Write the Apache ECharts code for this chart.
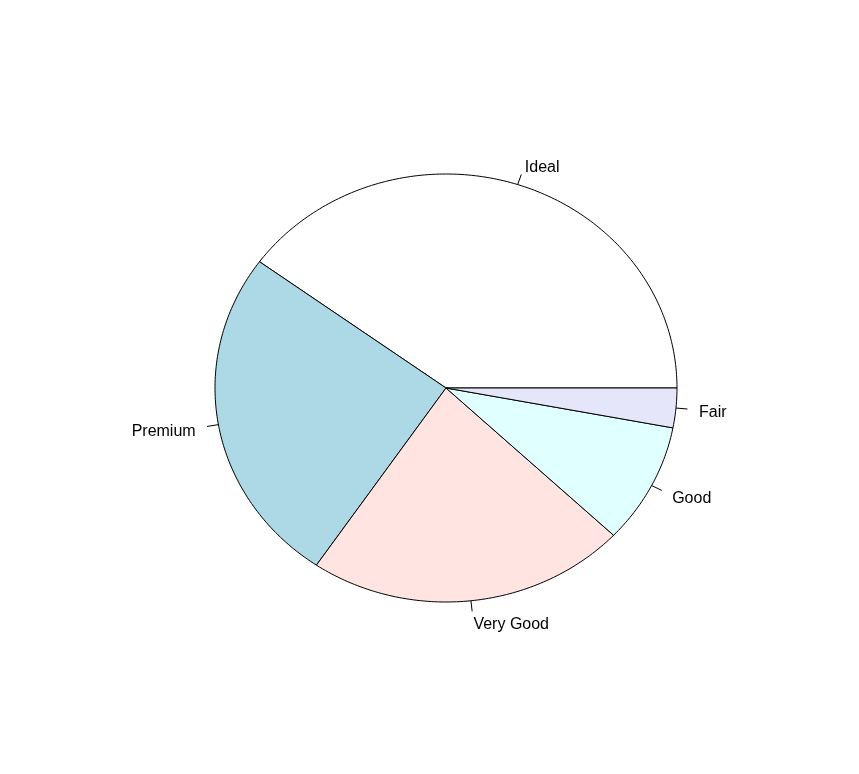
<!DOCTYPE html>
<html>
<head>
<meta charset="utf-8">
<script src="https://cdn.jsdelivr.net/npm/echarts@6/dist/echarts.min.js"></script>
<style>
html,body{margin:0;padding:0;background:#fff;}
#chart{width:859px;height:774px;}
</style>
</head>
<body>
<div id="chart"></div>
<script>
// Data (counts of diamonds by cut), in drawing order (counter-clockwise from 3 o'clock)
var categories = ['Ideal', 'Premium', 'Very Good', 'Good', 'Fair'];
var counts = [21551, 13791, 12082, 4906, 1610];
var palette = ['#FFFFFF', '#ADD8E6', '#FFE4E1', '#E0FFFF', '#E6E6FA'];

var total = counts.reduce(function (a, b) { return a + b; }, 0);
var cum = [0];
for (var i = 0; i < counts.length; i++) cum.push(cum[i] + counts[i] / total);

var sliceData = categories.map(function (c, i) { return [cum[i], cum[i + 1], i]; });

var chart = echarts.init(document.getElementById('chart'), null, { renderer: 'canvas' });

function ptAt(api, frac, r) {
  var a = 2 * Math.PI * frac;
  return api.coord([r * Math.cos(a), r * Math.sin(a)]);
}

var option = {
  backgroundColor: '#ffffff',
  animation: false,
  grid: { left: 215, width: 462, top: 174, height: 428 },
  xAxis: { type: 'value', min: -1, max: 1, show: false },
  yAxis: { type: 'value', min: -1, max: 1, show: false },
  series: [
    {
      type: 'custom',
      coordinateSystem: 'cartesian2d',
      data: sliceData,
      encode: { x: 0, y: 1 },
      clip: false,
      renderItem: function (params, api) {
        var s = api.value(0), e = api.value(1), idx = api.value(2);
        var n = Math.max(2, Math.ceil((e - s) * 400));
        var pts = [api.coord([0, 0])];
        for (var k = 0; k <= n; k++) {
          pts.push(ptAt(api, s + (e - s) * k / n, 1));
        }
        var mid = (s + e) / 2;
        var p1 = ptAt(api, mid, 1);
        var p2 = ptAt(api, mid, 1.05);
        var pl = ptAt(api, mid, 1.1);
        var left = Math.cos(2 * Math.PI * mid) < 0;
        return {
          type: 'group',
          children: [
            {
              type: 'polygon',
              shape: { points: pts },
              style: { fill: palette[idx], stroke: '#000', lineWidth: 1 }
            },
            {
              type: 'line',
              shape: { x1: p1[0], y1: p1[1], x2: p2[0], y2: p2[1] },
              style: { stroke: '#000', lineWidth: 1 }
            },
            {
              type: 'text',
              x: pl[0], y: pl[1] + 3,
              style: {
                text: categories[idx],
                fill: '#000',
                font: '16px "Liberation Sans", Arial, sans-serif',
                align: left ? 'right' : 'left',
                verticalAlign: 'middle'
              }
            }
          ]
        };
      }
    }
  ]
};
chart.setOption(option);
</script>
</body>
</html>
